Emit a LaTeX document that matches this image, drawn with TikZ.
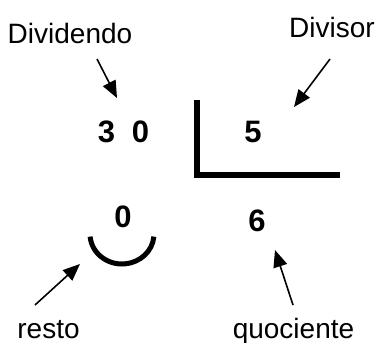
\documentclass[tikz,border=0pt]{standalone}
\usepackage{fontspec}
\setmainfont{Liberation Sans}
\usetikzlibrary{calc}
\usetikzlibrary{arrows.meta, positioning}

\begin{document}
\begin{tikzpicture}[
    x=1pt, y=1pt,
    every node/.style={inner sep=0pt, anchor=base, font=\fontsize{28}{32}\selectfont},
    lbl/.style={},
    digit/.style={font=\fontsize{31}{34}\selectfont\bfseries},
    arrow/.style={-{Triangle[length=17pt, width=14pt]}, line width=1.6pt},
    bar/.style={line width=6.5pt, line join=miter}
]
\useasboundingbox (0,0) rectangle (381,-343);

\node[lbl] (dividendo) at (70,-43)   {Dividendo};
\node[lbl] (divisor)   at (332,-37)  {Divisor};
\node[lbl] (resto)     at (48.5,-338) {resto};
\node[lbl] (quoc)      at (293.5,-338) {quociente};

\node[digit] (n30) at (123.5,-142) {3\hspace{17pt}0};
\node[digit] (n5)  at (253,-142) {5};
\node[digit] (n0)  at (123,-227) {0};
\node[digit] (n6)  at (257,-231) {6};

% chaveta
\draw[bar] (197,-100) -- (197,-175) -- (340,-175);
\draw[line width=5pt] ($(122,-234)+(185:32 and 30)$) arc[start angle=185, end angle=355, x radius=32, y radius=30];

% setas
\coordinate (t1) at (97,-59);   \coordinate (h1) at (117,-98);
\coordinate (t2) at (330,-59);  \coordinate (h2) at (294,-107);
\coordinate (t3) at (35,-305);  \coordinate (h3) at (80,-264);
\coordinate (t4) at (293,-305); \coordinate (h4) at (275,-250);
\draw[arrow] (t1) -- (h1);
\draw[arrow] (t2) -- (h2);
\draw[arrow] (t3) -- (h3);
\draw[arrow] (t4) -- (h4);

\end{tikzpicture}
\end{document}
